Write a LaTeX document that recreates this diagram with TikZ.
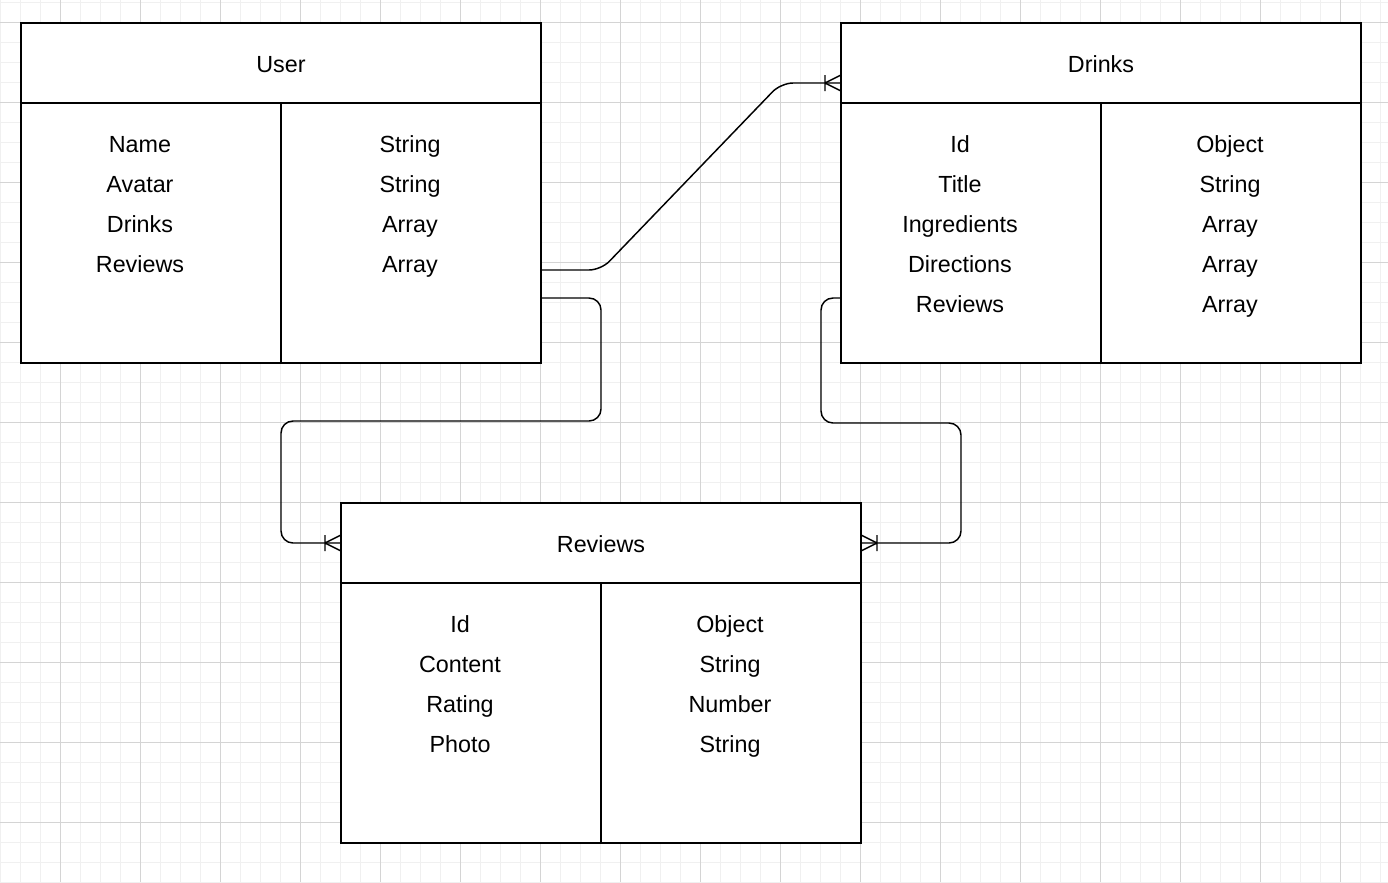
\documentclass[tikz,border=0pt]{standalone}
\usepackage{fontspec}
\setmainfont{Liberation Sans}
\usetikzlibrary{calc}
\tikzset{
  cell/.style={draw=black, line width=1.1pt, fill=white, inner sep=0pt, outer sep=0pt},
  hdr/.style={cell, minimum width=390pt, minimum height=60pt},
  bodycell/.style={cell, minimum width=195pt, minimum height=195pt},
  txt/.style={inner sep=0pt, text height=14pt, text depth=0pt, font=\fontsize{17.5}{21}\selectfont},
  conn/.style={draw=black, line width=1.1pt, rounded corners=9pt},
  minorgrid/.style={draw=black!6, line width=0.75pt},
  majorgrid/.style={draw=black!17, line width=0.75pt},
  crowfoot/.pic={
    \draw[line width=1.1pt] (-16,0) -- (0,-8) (-16,0) -- (0,8) (-16,-8) -- (-16,8);
  }
}
\begin{document}
\begin{tikzpicture}[x=0.75pt,y=-0.75pt]
\fill[white] (0,0) rectangle (1388,882);
\useasboundingbox (0,0) rectangle (1388,882);
% grid
\foreach \gx in {0,20,...,1380} \draw[minorgrid] (\gx,0) -- (\gx,882);
\foreach \gy in {2,22,...,882} \draw[minorgrid] (0,\gy) -- (1388,\gy);
\foreach \gx in {60,140,...,1380} \draw[majorgrid] (\gx,0) -- (\gx,882);
\foreach \gy in {22,102,...,882} \draw[majorgrid] (0,\gy) -- (1388,\gy);

% User table
\node[hdr] (uh) at (281,63) {};
\node[txt] (uht) at (281,63) {User};
\node[bodycell] (ub1) at (151,233) {};
\node[bodycell] (ub2) at (411,233) {};
\foreach \t [count=\i] in {Name,Avatar,Drinks,Reviews}
  \node[txt] (ul\i) at (140,103+40*\i) {\t};
\foreach \t [count=\i] in {String,String,Array,Array}
  \node[txt] (ur\i) at (410,103+40*\i) {\t};

% Drinks table
\node[hdr] (dh) at (1101,63) {};
\node[txt] (dht) at (1101,63) {Drinks};
\node[bodycell] (db1) at (971,233) {};
\node[bodycell] (db2) at (1231,233) {};
\foreach \t [count=\i] in {Id,Title,Ingredients,Directions,Reviews}
  \node[txt] (dl\i) at (960,103+40*\i) {\t};
\foreach \t [count=\i] in {Object,String,Array,Array,Array}
  \node[txt] (dr\i) at (1230,103+40*\i) {\t};

% Reviews table
\node[hdr] (rh) at (601,543) {};
\node[txt] (rht) at (601,543) {Reviews};
\node[bodycell] (rb1) at (471,713) {};
\node[bodycell] (rb2) at (731,713) {};
\foreach \t [count=\i] in {Id,Content,Rating,Photo}
  \node[txt] (rl\i) at (460,583+40*\i) {\t};
\foreach \t [count=\i] in {Object,String,Number,String}
  \node[txt] (rr\i) at (730,583+40*\i) {\t};

% connector end points
\coordinate (u1) at ($(ub2.north east)+(0,167)$);
\coordinate (u2) at ($(ub2.north east)+(0,195)$);
\coordinate (d1) at ($(dh.west)+(0,20)$);
\coordinate (d2) at ($(db1.north west)+(0,195)$);
\coordinate (r1) at (rh.west);
\coordinate (r2) at (rh.east);

% connectors
\draw[conn] (u1) -- ++(60,0) -- ($(d1)+(-60,0)$) -- (d1);
\draw[conn] (u2) -- ++(60,0) -- ++(0,123) -| ($(r1)+(-60,0)$) -- (r1);
\draw[conn] (d2) -- ++(-20,0) -- ++(0,125) -| ($(r2)+(100,0)$) -- (r2);

% crow's feet
\pic at (d1) {crowfoot};
\pic at (r1) {crowfoot};
\pic[xscale=-1] at (r2) {crowfoot};
\end{tikzpicture}
\end{document}
